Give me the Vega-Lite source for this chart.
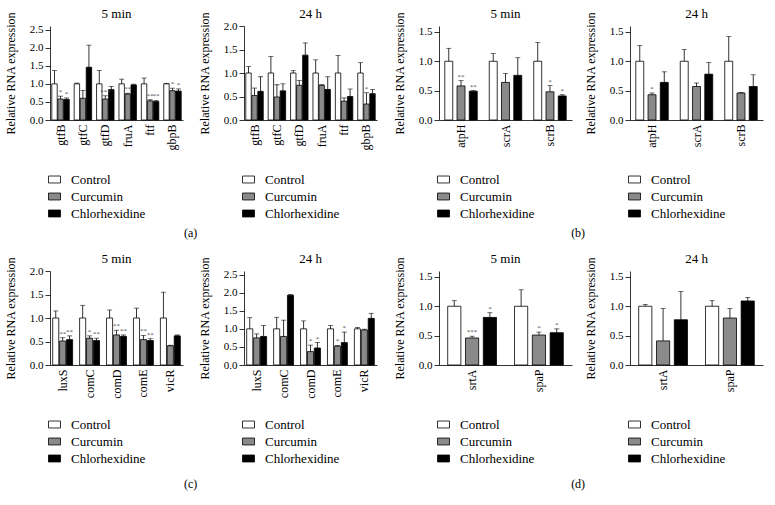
{
"$schema":"https://vega.github.io/schema/vega-lite/v6.json",
"padding":{"left":4,"top":7,"right":5,"bottom":2},
"config":{
 "font":"Liberation Serif",
 "view":{"stroke":null},
 "style":{"group-title":{"fontWeight":"normal","font":"Liberation Serif"}},
 "title":{"font":"Liberation Serif","fontSize":13,"fontWeight":400,"color":"black","offset":-9,"anchor":"middle"},
 "axis":{"grid":false,"domainColor":"black","tickColor":"black","labelColor":"black","titleColor":"black","labelFont":"Liberation Serif","titleFont":"Liberation Serif","labelFontSize":11,"titleFontSize":12,"titleFontWeight":"normal","domainWidth":0.8,"tickWidth":0.8,"labelOverlap":false,"labelSeparation":-30},
 "axisY":{"tickSize":5,"labelPadding":2,"titlePadding":12,"labelOverlap":false},
 "axisX":{"ticks":false,"labelAngle":-90,"labelPadding":4,"labelFontSize":12},
 "legend":{"orient":"none","legendX":-2,"legendY":147,"title":null,"symbolType":"M-1,-0.58H1V0.58H-1Z","symbolSize":144,"symbolStrokeColor":"black","symbolStrokeWidth":0.8,"labelFont":"Liberation Serif","labelFontSize":13,"labelColor":"black","rowPadding":3,"labelOffset":10}
},
"datasets":{
"p1":[
{"gene":"gtfB","grp":"Control","v":1,"hi":1.37,"sig":""},{"gene":"gtfB","grp":"Curcumin","v":0.58,"hi":0.66,"sig":"*"},{"gene":"gtfB","grp":"Chlorhexidine","v":0.57,"hi":0.61,"sig":"*"},
{"gene":"gtfC","grp":"Control","v":1,"hi":1.02,"sig":""},{"gene":"gtfC","grp":"Curcumin","v":0.6,"hi":0.82,"sig":""},{"gene":"gtfC","grp":"Chlorhexidine","v":1.46,"hi":2.07,"sig":""},
{"gene":"gtfD","grp":"Control","v":1,"hi":1.37,"sig":""},{"gene":"gtfD","grp":"Curcumin","v":0.58,"hi":0.67,"sig":"***"},{"gene":"gtfD","grp":"Chlorhexidine","v":0.84,"hi":0.93,"sig":""},
{"gene":"fruA","grp":"Control","v":1,"hi":1.13,"sig":""},{"gene":"fruA","grp":"Curcumin","v":0.72,"hi":0.74,"sig":"**"},{"gene":"fruA","grp":"Chlorhexidine","v":0.97,"hi":0.99,"sig":""},
{"gene":"ftf","grp":"Control","v":1,"hi":1.16,"sig":""},{"gene":"ftf","grp":"Curcumin","v":0.53,"hi":0.56,"sig":"**"},{"gene":"ftf","grp":"Chlorhexidine","v":0.51,"hi":0.54,"sig":"**"},
{"gene":"gbpB","grp":"Control","v":1,"hi":1.01,"sig":""},{"gene":"gbpB","grp":"Curcumin","v":0.81,"hi":0.88,"sig":"*"},{"gene":"gbpB","grp":"Chlorhexidine","v":0.8,"hi":0.86,"sig":"*"}
],
"p2":[
{"gene":"gtfB","grp":"Control","v":1,"hi":1.14,"sig":""},{"gene":"gtfB","grp":"Curcumin","v":0.52,"hi":0.68,"sig":""},{"gene":"gtfB","grp":"Chlorhexidine","v":0.61,"hi":0.92,"sig":""},
{"gene":"gtfC","grp":"Control","v":1,"hi":1.35,"sig":""},{"gene":"gtfC","grp":"Curcumin","v":0.49,"hi":0.75,"sig":""},{"gene":"gtfC","grp":"Chlorhexidine","v":0.62,"hi":0.77,"sig":""},
{"gene":"gtfD","grp":"Control","v":1,"hi":1.05,"sig":""},{"gene":"gtfD","grp":"Curcumin","v":0.74,"hi":0.84,"sig":""},{"gene":"gtfD","grp":"Chlorhexidine","v":1.38,"hi":1.64,"sig":""},
{"gene":"fruA","grp":"Control","v":1,"hi":1.28,"sig":""},{"gene":"fruA","grp":"Curcumin","v":0.74,"hi":0.75,"sig":""},{"gene":"fruA","grp":"Chlorhexidine","v":0.65,"hi":0.92,"sig":""},
{"gene":"ftf","grp":"Control","v":1,"hi":1.37,"sig":""},{"gene":"ftf","grp":"Curcumin","v":0.4,"hi":0.47,"sig":""},{"gene":"ftf","grp":"Chlorhexidine","v":0.5,"hi":0.66,"sig":""},
{"gene":"gbpB","grp":"Control","v":1,"hi":1.22,"sig":""},{"gene":"gbpB","grp":"Curcumin","v":0.34,"hi":0.58,"sig":"*"},{"gene":"gbpB","grp":"Chlorhexidine","v":0.56,"hi":0.65,"sig":""}
],
"p3":[
{"gene":"atpH","grp":"Control","v":1,"hi":1.22,"sig":""},{"gene":"atpH","grp":"Curcumin","v":0.58,"hi":0.67,"sig":"**"},{"gene":"atpH","grp":"Chlorhexidine","v":0.49,"hi":0.5,"sig":"**"},
{"gene":"scrA","grp":"Control","v":1,"hi":1.13,"sig":""},{"gene":"scrA","grp":"Curcumin","v":0.64,"hi":0.79,"sig":""},{"gene":"scrA","grp":"Chlorhexidine","v":0.76,"hi":1.06,"sig":""},
{"gene":"scrB","grp":"Control","v":1,"hi":1.32,"sig":""},{"gene":"scrB","grp":"Curcumin","v":0.48,"hi":0.585,"sig":"*"},{"gene":"scrB","grp":"Chlorhexidine","v":0.41,"hi":0.43,"sig":"*"}
],
"p4":[
{"gene":"atpH","grp":"Control","v":1,"hi":1.27,"sig":""},{"gene":"atpH","grp":"Curcumin","v":0.43,"hi":0.46,"sig":"*"},{"gene":"atpH","grp":"Chlorhexidine","v":0.64,"hi":0.82,"sig":""},
{"gene":"scrA","grp":"Control","v":1,"hi":1.2,"sig":""},{"gene":"scrA","grp":"Curcumin","v":0.57,"hi":0.63,"sig":""},{"gene":"scrA","grp":"Chlorhexidine","v":0.78,"hi":0.98,"sig":""},
{"gene":"scrB","grp":"Control","v":1,"hi":1.42,"sig":""},{"gene":"scrB","grp":"Curcumin","v":0.46,"hi":0.47,"sig":""},{"gene":"scrB","grp":"Chlorhexidine","v":0.57,"hi":0.77,"sig":""}
],
"p5":[
{"gene":"luxS","grp":"Control","v":1,"hi":1.15,"sig":""},{"gene":"luxS","grp":"Curcumin","v":0.51,"hi":0.58,"sig":"**"},{"gene":"luxS","grp":"Chlorhexidine","v":0.54,"hi":0.62,"sig":"**"},
{"gene":"comC","grp":"Control","v":1,"hi":1.27,"sig":""},{"gene":"comC","grp":"Curcumin","v":0.57,"hi":0.62,"sig":"*"},{"gene":"comC","grp":"Chlorhexidine","v":0.52,"hi":0.57,"sig":"**"},
{"gene":"comD","grp":"Control","v":1,"hi":1.17,"sig":""},{"gene":"comD","grp":"Curcumin","v":0.64,"hi":0.74,"sig":"**"},{"gene":"comD","grp":"Chlorhexidine","v":0.61,"hi":0.64,"sig":"**"},
{"gene":"comE","grp":"Control","v":1,"hi":1.21,"sig":""},{"gene":"comE","grp":"Curcumin","v":0.54,"hi":0.63,"sig":"**"},{"gene":"comE","grp":"Chlorhexidine","v":0.52,"hi":0.56,"sig":"**"},
{"gene":"vicR","grp":"Control","v":1,"hi":1.55,"sig":""},{"gene":"vicR","grp":"Curcumin","v":0.41,"hi":0.42,"sig":""},{"gene":"vicR","grp":"Chlorhexidine","v":0.62,"hi":0.64,"sig":""}
],
"p6":[
{"gene":"luxS","grp":"Control","v":1,"hi":1.31,"sig":""},{"gene":"luxS","grp":"Curcumin","v":0.75,"hi":0.86,"sig":""},{"gene":"luxS","grp":"Chlorhexidine","v":0.79,"hi":1.09,"sig":""},
{"gene":"comC","grp":"Control","v":1,"hi":1.32,"sig":""},{"gene":"comC","grp":"Curcumin","v":0.79,"hi":1.24,"sig":""},{"gene":"comC","grp":"Chlorhexidine","v":1.93,"hi":1.95,"sig":""},
{"gene":"comD","grp":"Control","v":1,"hi":1.22,"sig":""},{"gene":"comD","grp":"Curcumin","v":0.37,"hi":0.55,"sig":"*"},{"gene":"comD","grp":"Chlorhexidine","v":0.47,"hi":0.62,"sig":"*"},
{"gene":"comE","grp":"Control","v":1,"hi":1.09,"sig":""},{"gene":"comE","grp":"Curcumin","v":0.52,"hi":0.54,"sig":"*"},{"gene":"comE","grp":"Chlorhexidine","v":0.62,"hi":0.91,"sig":"*"},
{"gene":"vicR","grp":"Control","v":1,"hi":1.04,"sig":""},{"gene":"vicR","grp":"Curcumin","v":0.97,"hi":0.99,"sig":""},{"gene":"vicR","grp":"Chlorhexidine","v":1.29,"hi":1.43,"sig":""}
],
"p7":[
{"gene":"srtA","grp":"Control","v":1,"hi":1.095,"sig":""},{"gene":"srtA","grp":"Curcumin","v":0.46,"hi":0.49,"sig":"***"},{"gene":"srtA","grp":"Chlorhexidine","v":0.81,"hi":0.89,"sig":"*"},
{"gene":"spaP","grp":"Control","v":1,"hi":1.28,"sig":""},{"gene":"spaP","grp":"Curcumin","v":0.51,"hi":0.56,"sig":"*"},{"gene":"spaP","grp":"Chlorhexidine","v":0.55,"hi":0.615,"sig":"*"}
],
"p8":[
{"gene":"srtA","grp":"Control","v":1,"hi":1.03,"sig":""},{"gene":"srtA","grp":"Curcumin","v":0.41,"hi":0.96,"sig":""},{"gene":"srtA","grp":"Chlorhexidine","v":0.77,"hi":1.25,"sig":""},
{"gene":"spaP","grp":"Control","v":1,"hi":1.095,"sig":""},{"gene":"spaP","grp":"Curcumin","v":0.8,"hi":0.96,"sig":""},{"gene":"spaP","grp":"Chlorhexidine","v":1.09,"hi":1.15,"sig":""}
]
},
"spacing":13,
"resolve":{"scale":{"fill":"independent","xOffset":"independent"},"legend":{"fill":"independent"}},
"vconcat":[
{"spacing":16,
 "resolve":{"scale":{"fill":"independent","xOffset":"independent"},"legend":{"fill":"independent"}},
 "hconcat":[
 {"title":{"text":"(a)","orient":"bottom","offset":7,"anchor":"middle","fontSize":12,"fontWeight":400},"spacing":15,
  "resolve":{"scale":{"fill":"independent","xOffset":"independent"},"legend":{"fill":"independent"}},
  "hconcat":[
  {"width":133,"height":94,"title":{"text":"5 min","fontWeight":400},"data":{"name":"p1"},
   "encoding":{"x":{"field":"gene","type":"nominal","sort":null,"title":null,"scale":{"paddingInner":0.22,"paddingOuter":0.08}},
     "xOffset":{"field":"grp","type":"nominal","sort":["Control","Curcumin","Chlorhexidine"],"scale":{"paddingInner":0.1}}},
   "layer":[
    {"mark":{"type":"bar","stroke":"black","strokeWidth":0.8},"encoding":{"y":{"field":"v","type":"quantitative","title":"Relative RNA expression","scale":{"domain":[0,2.5]},"axis":{"values":[0,0.5,1,1.5,2,2.5],"format":".1f","labelOverlap":false}},"fill":{"field":"grp","type":"nominal","scale":{"domain":["Control","Curcumin","Chlorhexidine"],"range":["white","#8a8a8a","black"]}}}},
    {"mark":{"type":"rule","strokeWidth":0.8,"color":"black"},"encoding":{"y":{"field":"v","type":"quantitative","title":"Relative RNA expression","axis":{"values":[0,0.5,1,1.5,2,2.5],"format":".1f","labelOverlap":false}},"y2":{"field":"hi"}}},
    {"mark":{"type":"tick","thickness":0.8,"size":5,"color":"black"},"encoding":{"y":{"field":"hi","type":"quantitative","title":"Relative RNA expression","axis":{"values":[0,0.5,1,1.5,2,2.5],"format":".1f","labelOverlap":false}}}},
    {"mark":{"type":"text","baseline":"bottom","dy":-1,"fontSize":7,"color":"#555"},"encoding":{"y":{"field":"hi","type":"quantitative","title":"Relative RNA expression","axis":{"values":[0,0.5,1,1.5,2,2.5],"format":".1f","labelOverlap":false}},"text":{"field":"sig"}}}
   ]},
  {"width":133,"height":94,"title":{"text":"24 h","fontWeight":400},"data":{"name":"p2"},
   "encoding":{"x":{"field":"gene","type":"nominal","sort":null,"title":null,"scale":{"paddingInner":0.22,"paddingOuter":0.08}},
     "xOffset":{"field":"grp","type":"nominal","sort":["Control","Curcumin","Chlorhexidine"],"scale":{"paddingInner":0.1}}},
   "layer":[
    {"mark":{"type":"bar","stroke":"black","strokeWidth":0.8},"encoding":{"y":{"field":"v","type":"quantitative","title":"Relative RNA expression","scale":{"domain":[0,2]},"axis":{"values":[0,0.5,1,1.5,2],"format":".1f","labelOverlap":false}},"fill":{"field":"grp","type":"nominal","scale":{"domain":["Control","Curcumin","Chlorhexidine"],"range":["white","#8a8a8a","black"]}}}},
    {"mark":{"type":"rule","strokeWidth":0.8,"color":"black"},"encoding":{"y":{"field":"v","type":"quantitative","title":"Relative RNA expression","axis":{"values":[0,0.5,1,1.5,2],"format":".1f","labelOverlap":false}},"y2":{"field":"hi"}}},
    {"mark":{"type":"tick","thickness":0.8,"size":5,"color":"black"},"encoding":{"y":{"field":"hi","type":"quantitative","title":"Relative RNA expression","axis":{"values":[0,0.5,1,1.5,2],"format":".1f","labelOverlap":false}}}},
    {"mark":{"type":"text","baseline":"bottom","dy":-1,"fontSize":7,"color":"#555"},"encoding":{"y":{"field":"hi","type":"quantitative","title":"Relative RNA expression","axis":{"values":[0,0.5,1,1.5,2],"format":".1f","labelOverlap":false}},"text":{"field":"sig"}}}
   ]}
  ]},
 {"title":{"text":"(b)","orient":"bottom","offset":7,"anchor":"middle","fontSize":12,"fontWeight":400},"spacing":12,
  "resolve":{"scale":{"fill":"independent","xOffset":"independent"},"legend":{"fill":"independent"}},
  "hconcat":[
  {"width":133,"height":94,"title":{"text":"5 min","fontWeight":400},"data":{"name":"p3"},
   "encoding":{"x":{"field":"gene","type":"nominal","sort":null,"title":null,"scale":{"paddingInner":0.27,"paddingOuter":0.13}},
     "xOffset":{"field":"grp","type":"nominal","sort":["Control","Curcumin","Chlorhexidine"],"scale":{"paddingInner":0.35}}},
   "layer":[
    {"mark":{"type":"bar","stroke":"black","strokeWidth":0.8},"encoding":{"y":{"field":"v","type":"quantitative","title":"Relative RNA expression","scale":{"domain":[0,1.5]},"axis":{"values":[0,0.5,1,1.5],"format":".1f","labelOverlap":false}},"fill":{"field":"grp","type":"nominal","scale":{"domain":["Control","Curcumin","Chlorhexidine"],"range":["white","#8a8a8a","black"]}}}},
    {"mark":{"type":"rule","strokeWidth":0.8,"color":"black"},"encoding":{"y":{"field":"v","type":"quantitative","title":"Relative RNA expression","axis":{"values":[0,0.5,1,1.5],"format":".1f","labelOverlap":false}},"y2":{"field":"hi"}}},
    {"mark":{"type":"tick","thickness":0.8,"size":5,"color":"black"},"encoding":{"y":{"field":"hi","type":"quantitative","title":"Relative RNA expression","axis":{"values":[0,0.5,1,1.5],"format":".1f","labelOverlap":false}}}},
    {"mark":{"type":"text","baseline":"bottom","dy":-1,"fontSize":7,"color":"#555"},"encoding":{"y":{"field":"hi","type":"quantitative","title":"Relative RNA expression","axis":{"values":[0,0.5,1,1.5],"format":".1f","labelOverlap":false}},"text":{"field":"sig"}}}
   ]},
  {"width":133,"height":94,"title":{"text":"24 h","fontWeight":400},"data":{"name":"p4"},
   "encoding":{"x":{"field":"gene","type":"nominal","sort":null,"title":null,"scale":{"paddingInner":0.27,"paddingOuter":0.13}},
     "xOffset":{"field":"grp","type":"nominal","sort":["Control","Curcumin","Chlorhexidine"],"scale":{"paddingInner":0.35}}},
   "layer":[
    {"mark":{"type":"bar","stroke":"black","strokeWidth":0.8},"encoding":{"y":{"field":"v","type":"quantitative","title":"Relative RNA expression","scale":{"domain":[0,1.5]},"axis":{"values":[0,0.5,1,1.5],"format":".1f","labelOverlap":false}},"fill":{"field":"grp","type":"nominal","scale":{"domain":["Control","Curcumin","Chlorhexidine"],"range":["white","#8a8a8a","black"]}}}},
    {"mark":{"type":"rule","strokeWidth":0.8,"color":"black"},"encoding":{"y":{"field":"v","type":"quantitative","title":"Relative RNA expression","axis":{"values":[0,0.5,1,1.5],"format":".1f","labelOverlap":false}},"y2":{"field":"hi"}}},
    {"mark":{"type":"tick","thickness":0.8,"size":5,"color":"black"},"encoding":{"y":{"field":"hi","type":"quantitative","title":"Relative RNA expression","axis":{"values":[0,0.5,1,1.5],"format":".1f","labelOverlap":false}}}},
    {"mark":{"type":"text","baseline":"bottom","dy":-1,"fontSize":7,"color":"#555"},"encoding":{"y":{"field":"hi","type":"quantitative","title":"Relative RNA expression","axis":{"values":[0,0.5,1,1.5],"format":".1f","labelOverlap":false}},"text":{"field":"sig"}}}
   ]}
  ]}
 ]},
{"spacing":16,
 "resolve":{"scale":{"fill":"independent","xOffset":"independent"},"legend":{"fill":"independent"}},
 "hconcat":[
 {"title":{"text":"(c)","orient":"bottom","offset":13,"anchor":"middle","fontSize":12,"fontWeight":400},"spacing":15,
  "resolve":{"scale":{"fill":"independent","xOffset":"independent"},"legend":{"fill":"independent"}},
  "hconcat":[
  {"width":133,"height":94,"title":{"text":"5 min","fontWeight":400},"data":{"name":"p5"},
   "encoding":{"x":{"field":"gene","type":"nominal","sort":null,"title":null,"scale":{"paddingInner":0.26,"paddingOuter":0.1}},
     "xOffset":{"field":"grp","type":"nominal","sort":["Control","Curcumin","Chlorhexidine"],"scale":{"paddingInner":0.12}}},
   "layer":[
    {"mark":{"type":"bar","stroke":"black","strokeWidth":0.8},"encoding":{"y":{"field":"v","type":"quantitative","title":"Relative RNA expression","scale":{"domain":[0,2]},"axis":{"values":[0,0.5,1,1.5,2],"format":".1f","labelOverlap":false}},"fill":{"field":"grp","type":"nominal","scale":{"domain":["Control","Curcumin","Chlorhexidine"],"range":["white","#8a8a8a","black"]}}}},
    {"mark":{"type":"rule","strokeWidth":0.8,"color":"black"},"encoding":{"y":{"field":"v","type":"quantitative","title":"Relative RNA expression","axis":{"values":[0,0.5,1,1.5,2],"format":".1f","labelOverlap":false}},"y2":{"field":"hi"}}},
    {"mark":{"type":"tick","thickness":0.8,"size":5,"color":"black"},"encoding":{"y":{"field":"hi","type":"quantitative","title":"Relative RNA expression","axis":{"values":[0,0.5,1,1.5,2],"format":".1f","labelOverlap":false}}}},
    {"mark":{"type":"text","baseline":"bottom","dy":-1,"fontSize":7,"color":"#555"},"encoding":{"y":{"field":"hi","type":"quantitative","title":"Relative RNA expression","axis":{"values":[0,0.5,1,1.5,2],"format":".1f","labelOverlap":false}},"text":{"field":"sig"}}}
   ]},
  {"width":133,"height":94,"title":{"text":"24 h","fontWeight":400},"data":{"name":"p6"},
   "encoding":{"x":{"field":"gene","type":"nominal","sort":null,"title":null,"scale":{"paddingInner":0.26,"paddingOuter":0.1}},
     "xOffset":{"field":"grp","type":"nominal","sort":["Control","Curcumin","Chlorhexidine"],"scale":{"paddingInner":0.12}}},
   "layer":[
    {"mark":{"type":"bar","stroke":"black","strokeWidth":0.8},"encoding":{"y":{"field":"v","type":"quantitative","title":"Relative RNA expression","scale":{"domain":[0,2.5]},"axis":{"values":[0,0.5,1,1.5,2,2.5],"format":".1f","labelOverlap":false}},"fill":{"field":"grp","type":"nominal","scale":{"domain":["Control","Curcumin","Chlorhexidine"],"range":["white","#8a8a8a","black"]}}}},
    {"mark":{"type":"rule","strokeWidth":0.8,"color":"black"},"encoding":{"y":{"field":"v","type":"quantitative","title":"Relative RNA expression","axis":{"values":[0,0.5,1,1.5,2,2.5],"format":".1f","labelOverlap":false}},"y2":{"field":"hi"}}},
    {"mark":{"type":"tick","thickness":0.8,"size":5,"color":"black"},"encoding":{"y":{"field":"hi","type":"quantitative","title":"Relative RNA expression","axis":{"values":[0,0.5,1,1.5,2,2.5],"format":".1f","labelOverlap":false}}}},
    {"mark":{"type":"text","baseline":"bottom","dy":-1,"fontSize":7,"color":"#555"},"encoding":{"y":{"field":"hi","type":"quantitative","title":"Relative RNA expression","axis":{"values":[0,0.5,1,1.5,2,2.5],"format":".1f","labelOverlap":false}},"text":{"field":"sig"}}}
   ]}
  ]},
 {"title":{"text":"(d)","orient":"bottom","offset":13,"anchor":"middle","fontSize":12,"fontWeight":400},"spacing":12,
  "resolve":{"scale":{"fill":"independent","xOffset":"independent"},"legend":{"fill":"independent"}},
  "hconcat":[
  {"width":133,"height":94,"title":{"text":"5 min","fontWeight":400},"data":{"name":"p7"},
   "encoding":{"x":{"field":"gene","type":"nominal","sort":null,"title":null,"scale":{"paddingInner":0.27,"paddingOuter":0.13}},
     "xOffset":{"field":"grp","type":"nominal","sort":["Control","Curcumin","Chlorhexidine"],"scale":{"paddingInner":0.26}}},
   "layer":[
    {"mark":{"type":"bar","stroke":"black","strokeWidth":0.8},"encoding":{"y":{"field":"v","type":"quantitative","title":"Relative RNA expression","scale":{"domain":[0,1.5]},"axis":{"values":[0,0.5,1,1.5],"format":".1f","labelOverlap":false}},"fill":{"field":"grp","type":"nominal","scale":{"domain":["Control","Curcumin","Chlorhexidine"],"range":["white","#8a8a8a","black"]}}}},
    {"mark":{"type":"rule","strokeWidth":0.8,"color":"black"},"encoding":{"y":{"field":"v","type":"quantitative","title":"Relative RNA expression","axis":{"values":[0,0.5,1,1.5],"format":".1f","labelOverlap":false}},"y2":{"field":"hi"}}},
    {"mark":{"type":"tick","thickness":0.8,"size":5,"color":"black"},"encoding":{"y":{"field":"hi","type":"quantitative","title":"Relative RNA expression","axis":{"values":[0,0.5,1,1.5],"format":".1f","labelOverlap":false}}}},
    {"mark":{"type":"text","baseline":"bottom","dy":-1,"fontSize":7,"color":"#555"},"encoding":{"y":{"field":"hi","type":"quantitative","title":"Relative RNA expression","axis":{"values":[0,0.5,1,1.5],"format":".1f","labelOverlap":false}},"text":{"field":"sig"}}}
   ]},
  {"width":133,"height":94,"title":{"text":"24 h","fontWeight":400},"data":{"name":"p8"},
   "encoding":{"x":{"field":"gene","type":"nominal","sort":null,"title":null,"scale":{"paddingInner":0.27,"paddingOuter":0.13}},
     "xOffset":{"field":"grp","type":"nominal","sort":["Control","Curcumin","Chlorhexidine"],"scale":{"paddingInner":0.26}}},
   "layer":[
    {"mark":{"type":"bar","stroke":"black","strokeWidth":0.8},"encoding":{"y":{"field":"v","type":"quantitative","title":"Relative RNA expression","scale":{"domain":[0,1.5]},"axis":{"values":[0,0.5,1,1.5],"format":".1f","labelOverlap":false}},"fill":{"field":"grp","type":"nominal","scale":{"domain":["Control","Curcumin","Chlorhexidine"],"range":["white","#8a8a8a","black"]}}}},
    {"mark":{"type":"rule","strokeWidth":0.8,"color":"black"},"encoding":{"y":{"field":"v","type":"quantitative","title":"Relative RNA expression","axis":{"values":[0,0.5,1,1.5],"format":".1f","labelOverlap":false}},"y2":{"field":"hi"}}},
    {"mark":{"type":"tick","thickness":0.8,"size":5,"color":"black"},"encoding":{"y":{"field":"hi","type":"quantitative","title":"Relative RNA expression","axis":{"values":[0,0.5,1,1.5],"format":".1f","labelOverlap":false}}}},
    {"mark":{"type":"text","baseline":"bottom","dy":-1,"fontSize":7,"color":"#555"},"encoding":{"y":{"field":"hi","type":"quantitative","title":"Relative RNA expression","axis":{"values":[0,0.5,1,1.5],"format":".1f","labelOverlap":false}},"text":{"field":"sig"}}}
   ]}
  ]}
 ]}
]
}
